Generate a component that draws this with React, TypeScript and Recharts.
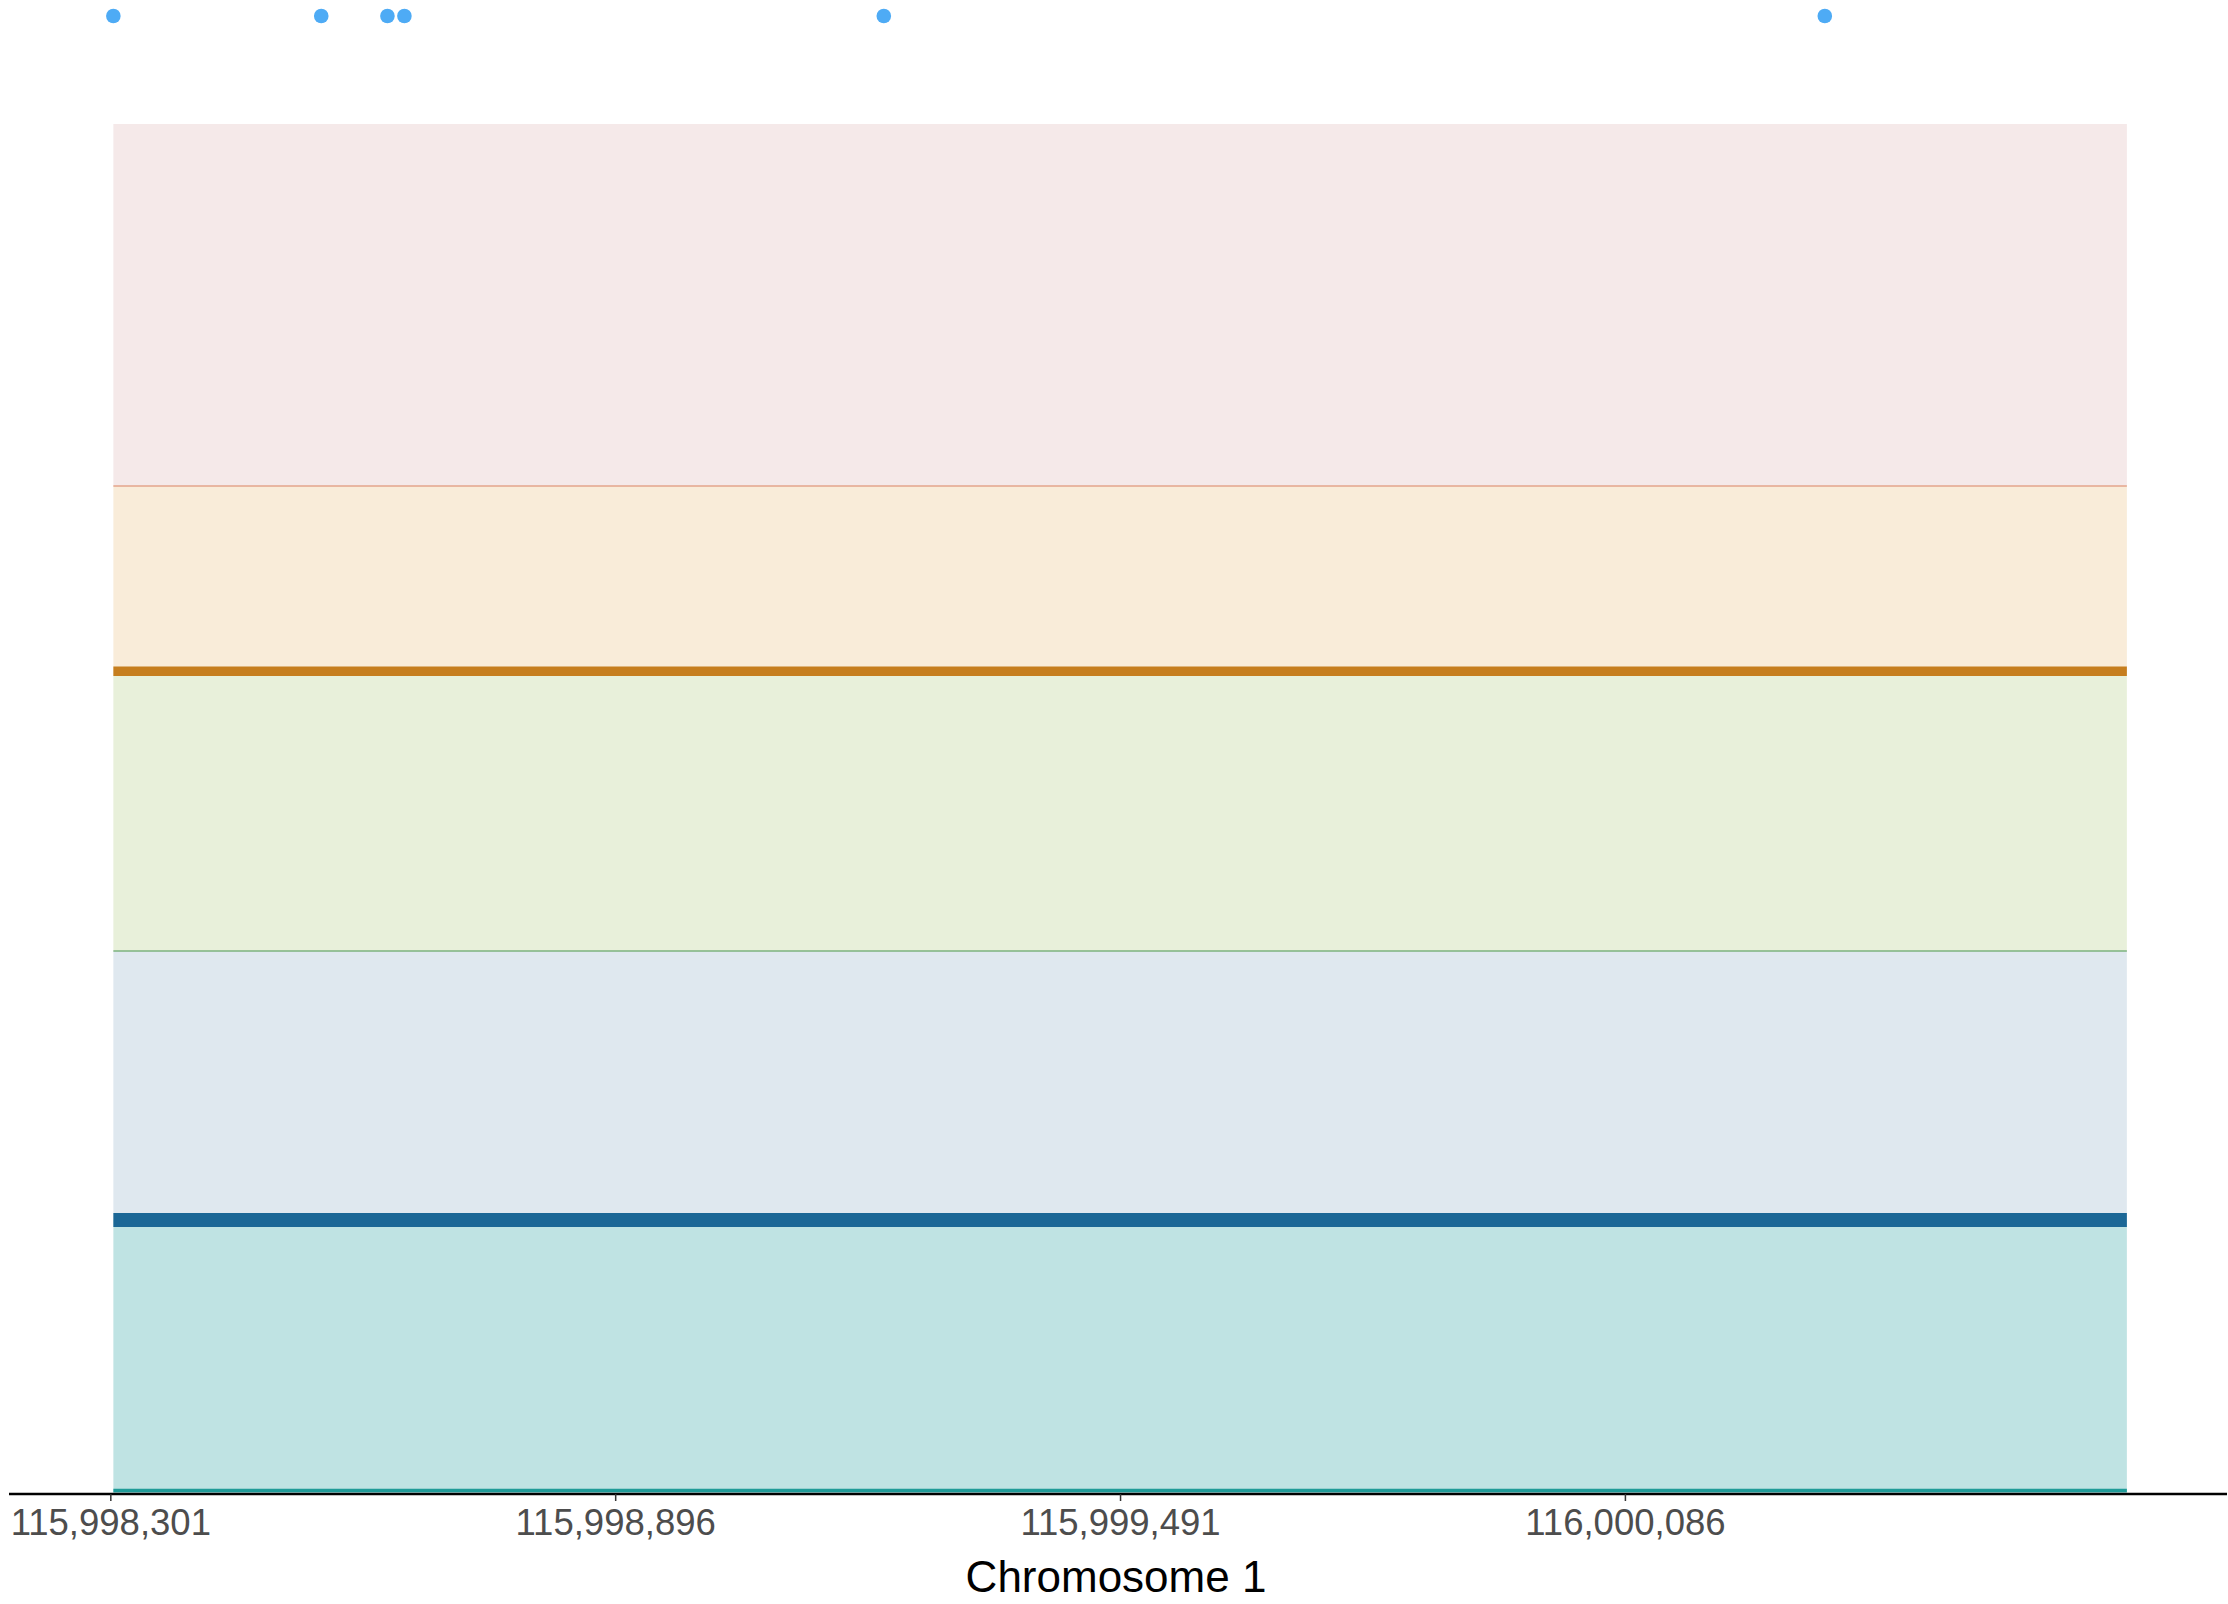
import React from "react";
import {
  ComposedChart,
  XAxis,
  YAxis,
  Scatter,
  ReferenceArea,
  ReferenceLine,
  Label,
} from "recharts";

// Genomic extent of the tracks
const REGION_START = 115998304;
const REGION_END = 116000677;
const AXIS_DOMAIN: [number, number] = [115998181, 116000795];
const X_TICKS = [115998301, 115998896, 115999491, 116000086];

// Variant positions shown as dots along the top
const VARIANT_POS = [115998304, 115998549, 115998627, 115998647, 115999212, 116000321];
const VARIANT_Y = [100, 100, 100, 100, 100, 100];

// Background bands (y ranges, relative track height 0..100)
const BAND_NAMES = ["pink", "orange", "green", "blue", "teal"];
const BAND_LOW = [68.2, 55.66, 36.74, 18.54, 0];
const BAND_HIGH = [92.69, 68.2, 55.66, 36.74, 18.54];
const BAND_COLORS = ["#f5e9e9", "#f9ecd9", "#e8f0da", "#dfe8ef", "#bfe3e3"];

// Boundary lines
const LINE_Y = [68.2, 55.66, 36.74, 18.54, 0.24];
const LINE_COLORS = ["#e3a58b", "#c67e1e", "#7db37e", "#1b6796", "#1f9b98"];
const LINE_WIDTHS = [1.5, 9.5, 1.5, 14, 3.5];

const dots = VARIANT_POS.map((pos, i) => ({ pos, y: VARIANT_Y[i] }));

const fmt = (v: number) => v.toLocaleString("en-US");

export default function App() {
  return (
    <div style={{ position: "absolute", left: 0, top: 0, width: 2228, height: 1604, background: "#fff" }}>
      <ComposedChart
        width={2228}
        height={1604}
        data={dots}
        margin={{ top: 16, right: 1, left: 9, bottom: 0 }}
      >
        <XAxis
          dataKey="pos"
          type="number"
          domain={AXIS_DOMAIN}
          ticks={X_TICKS}
          tickFormatter={fmt}
          height={110}
          axisLine={{ stroke: "#000", strokeWidth: 2.5 }}
          tickLine={{ stroke: "#333", strokeWidth: 1.5 }}
          tickSize={7}
          tickMargin={8}
          tick={{ fill: "#4d4d4d", fontSize: 36.5, fontFamily: "Liberation Sans, Arial, sans-serif" }}
        >
          <Label
            content={(props: any) => {
              const vb = props.viewBox || {};
              return (
                <text
                  x={vb.x + vb.width / 2 - 2}
                  y={vb.y + 98}
                  textAnchor="middle"
                  fill="#000"
                  fontSize={44}
                  fontFamily="Liberation Sans, Arial, sans-serif"
                >
                  Chromosome 1
                </text>
              );
            }}
          />
        </XAxis>
        <YAxis type="number" domain={[0, 100]} hide />
        {BAND_NAMES.map((n, i) => (
          <ReferenceArea
            key={n}
            x1={REGION_START}
            x2={REGION_END}
            y1={BAND_LOW[i]}
            y2={BAND_HIGH[i]}
            fill={BAND_COLORS[i]}
            fillOpacity={1}
            stroke="none"
            ifOverflow="visible"
          />
        ))}
        {LINE_Y.map((y, i) => (
          <ReferenceLine
            key={"l" + i}
            segment={[
              { x: REGION_START, y },
              { x: REGION_END, y },
            ]}
            stroke={LINE_COLORS[i]}
            strokeWidth={LINE_WIDTHS[i]}
            ifOverflow="visible"
          />
        ))}
        <Scatter
          data={dots}
          dataKey="y"
          isAnimationActive={false}
          shape={(p: any) => <circle cx={p.cx} cy={p.cy} r={7.3} fill="#4eabf5" />}
        />
      </ComposedChart>
    </div>
  );
}
